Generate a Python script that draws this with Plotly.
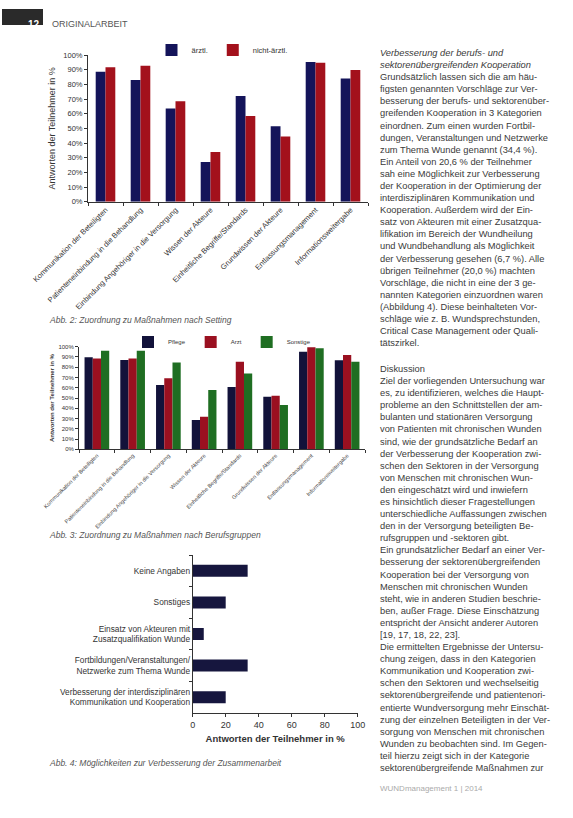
import plotly.graph_objects as go

W, H = 573, 818


def px(x):
    return x / W


def py(y):
    return 1 - y / H


# ---------------- data ----------------
cats = [
    "Kommunikation der Beteiligten",
    "Patienteneinbindung in die Behandlung",
    "Einbindung Angehöriger in die Versorgung",
    "Wissen der Akteure",
    "Einheitliche Begriffe/Standards",
    "Grundwissen der Akteure",
    "Entlassungsmanagement",
    "Informationsweitergabe",
]
aerztl = [88.6, 83.0, 63.6, 27.0, 72.0, 51.4, 95.2, 84.0]
nicht_aerztl = [91.6, 92.7, 68.4, 33.9, 58.4, 44.5, 94.8, 89.8]

pflege = [89.6, 87.0, 62.7, 28.6, 60.7, 51.3, 95.1, 86.7]
arzt = [88.6, 88.6, 69.2, 31.8, 85.4, 52.3, 99.4, 91.9]
sonstige = [96.1, 96.1, 84.7, 57.8, 74.0, 43.2, 98.4, 85.4]

cats3 = [
    "Keine Angaben",
    "Sonstiges",
    "Einsatz von Akteuren mit<br>Zusatzqualifikation Wunde",
    "Fortbildungen/Veranstaltungen/<br>Netzwerke zum Thema Wunde",
    "Verbesserung der interdisziplinären<br>Kommunikation und Kooperation",
]
vals3 = [33.3, 20.0, 6.7, 33.3, 20.0]

text_col1 = [
    "<i>Verbesserung der berufs- und</i>",
    "<i>sektorenübergreifenden Kooperation</i>",
    "Grundsätzlich lassen sich die am häu-",
    "figsten genannten Vorschläge zur Ver-",
    "besserung der berufs- und sektorenüber-",
    "greifenden Kooperation in 3 Kategorien",
    "einordnen. Zum einen wurden Fortbil-",
    "dungen, Veranstaltungen und Netzwerke",
    "zum Thema Wunde genannt (34,4 %).",
    "Ein Anteil von 20,6 % der Teilnehmer",
    "sah eine Möglichkeit zur Verbesserung",
    "der Kooperation in der Optimierung der",
    "interdisziplinären Kommunikation und",
    "Kooperation. Außerdem wird der Ein-",
    "satz von Akteuren mit einer Zusatzqua-",
    "lifikation im Bereich der Wundheilung",
    "und Wundbehandlung als Möglichkeit",
    "der Verbesserung gesehen (6,7 %). Alle",
    "übrigen Teilnehmer (20,0 %) machten",
    "Vorschläge, die nicht in eine der 3 ge-",
    "nannten Kategorien einzuordnen waren",
    "(Abbildung 4). Diese beinhalteten Vor-",
    "schläge wie z. B. Wundsprechstunden,",
    "Critical Case Management oder Quali-",
    "tätszirkel.",
]
text_col2 = [
    "Diskussion",
    "Ziel der vorliegenden Untersuchung war",
    "es, zu identifizieren, welches die Haupt-",
    "probleme an den Schnittstellen der am-",
    "bulanten und stationären Versorgung",
    "von Patienten mit chronischen Wunden",
    "sind, wie der grundsätzliche Bedarf an",
    "der Verbesserung der Kooperation zwi-",
    "schen den Sektoren in der Versorgung",
    "von Menschen mit chronischen Wun-",
    "den eingeschätzt wird und inwiefern",
    "es hinsichtlich dieser Fragestellungen",
    "unterschiedliche Auffassungen zwischen",
    "den in der Versorgung beteiligten Be-",
    "rufsgruppen und -sektoren gibt.",
    "Ein grundsätzlicher Bedarf an einer Ver-",
    "besserung der sektorenübergreifenden",
    "Kooperation bei der Versorgung von",
    "Menschen mit chronischen Wunden",
    "steht, wie in anderen Studien beschrie-",
    "ben, außer Frage. Diese Einschätzung",
    "entspricht der Ansicht anderer Autoren",
    "[19, 17, 18, 22, 23].",
    "Die ermittelten Ergebnisse der Untersu-",
    "chung zeigen, dass in den Kategorien",
    "Kommunikation und Kooperation zwi-",
    "schen den Sektoren und wechselseitig",
    "sektorenübergreifende und patientenori-",
    "entierte Wundversorgung mehr Einschät-",
    "zung der einzelnen Beteiligten in der Ver-",
    "sorgung von Menschen mit chronischen",
    "Wunden zu beobachten sind. Im Gegen-",
    "teil hierzu zeigt sich in der Kategorie",
    "sektorenübergreifende Maßnahmen zur",
]

NAVY = "#14145a"
RED = "#a3111c"
NAVY2 = "#12123a"
RED2 = "#9a1020"
GREEN = "#1f6e22"
NAVY3 = "#16163e"
FONT = "Liberation Sans"

fig = go.Figure()

# chart 1
fig.add_trace(go.Bar(x=cats, y=aerztl, name="ärztl.", marker_color=NAVY,
                     width=0.28, offset=-0.28, xaxis="x", yaxis="y", legend="legend"))
fig.add_trace(go.Bar(x=cats, y=nicht_aerztl, name="nicht-ärztl.", marker_color=RED,
                     width=0.28, offset=0.0, xaxis="x", yaxis="y", legend="legend"))

# chart 2
fig.add_trace(go.Bar(x=cats, y=pflege, name="Pflege", marker_color=NAVY2,
                     width=0.23, offset=-0.345, xaxis="x2", yaxis="y2", legend="legend2"))
fig.add_trace(go.Bar(x=cats, y=arzt, name="Arzt", marker_color=RED2,
                     width=0.23, offset=-0.115, xaxis="x2", yaxis="y2", legend="legend2"))
fig.add_trace(go.Bar(x=cats, y=sonstige, name="Sonstige", marker_color=GREEN,
                     width=0.23, offset=0.115, xaxis="x2", yaxis="y2", legend="legend2"))

# chart 3
fig.add_trace(go.Bar(y=cats3, x=vals3, orientation="h", marker_color=NAVY3,
                     width=0.38, offset=-0.19, xaxis="x3", yaxis="y3", showlegend=False))

axis_common = dict(showgrid=False, zeroline=False, showline=True, linecolor="#333",
                   linewidth=1, ticks="outside", tickcolor="#333", ticklen=3,
                   automargin=False)

fig.update_layout(
    template="none",
    width=W, height=H,
    margin=dict(l=0, r=0, t=0, b=0, pad=0, autoexpand=False),
    paper_bgcolor="white", plot_bgcolor="white",
    font=dict(family=FONT, color="#333"),
    barmode="group",
    xaxis=dict(domain=[px(88), px(368)], anchor="y", type="category",
               tickangle=-45, tickfont=dict(size=7.5), tickson="boundaries",
               **axis_common),
    yaxis=dict(domain=[py(201.7), py(55)], anchor="x", range=[0, 100], dtick=10,
               ticksuffix="%", tickfont=dict(size=7.5),
               title=dict(text="Antworten der Teilnehmer in %", font=dict(size=9), standoff=6),
               **axis_common),
    xaxis2=dict(domain=[px(79), px(365)], anchor="y2", type="category",
                tickangle=-45, tickfont=dict(size=5.5, color="#444"), tickson="boundaries",
                **axis_common),
    yaxis2=dict(domain=[py(449.3), py(346.7)], anchor="x2", range=[0, 100], dtick=10,
                ticksuffix="%", tickfont=dict(size=6),
                title=dict(text="<b>Antworten der Teilnehmer in %</b>", font=dict(size=6), standoff=3),
                **axis_common),
    xaxis3=dict(domain=[px(192.7), px(357.7)], anchor="y3", range=[0, 100], dtick=20,
                tickfont=dict(size=9),
                title=dict(text="<b>Antworten der Teilnehmer in %</b>", font=dict(size=9.5), standoff=6),
                **axis_common),
    yaxis3=dict(domain=[py(713), py(555)], anchor="x3", type="category",
                autorange="reversed", tickson="boundaries", tickfont=dict(size=8.3),
                **axis_common),
    legend=dict(orientation="h", x=px(222), xanchor="center", y=py(50), yanchor="middle",
                font=dict(size=7.5), bgcolor="rgba(0,0,0,0)", itemwidth=30),
    legend2=dict(orientation="h", x=px(222), xanchor="center", y=py(342), yanchor="middle",
                 font=dict(size=6), bgcolor="rgba(0,0,0,0)", itemwidth=30),
)

annotations = []
# header
annotations.append(dict(text="<b>12</b>", x=px(42), y=py(17), xref="paper", yref="paper",
                        xanchor="right", showarrow=False, font=dict(size=10, color="white")))
annotations.append(dict(text="ORIGINALARBEIT", x=px(50), y=py(17), xref="paper", yref="paper",
                        xanchor="left", showarrow=False, font=dict(size=9, color="#555")))
# captions
caps = [("Abb. 2: Zuordnung zu Maßnahmen nach Setting", 320),
        ("Abb. 3: Zuordnung zu Maßnahmen nach Berufsgruppen", 535),
        ("Abb. 4: Möglichkeiten zur Verbesserung der Zusammenarbeit", 763)]
for t, yy in caps:
    annotations.append(dict(text="<i>" + t + "</i>", x=px(47), y=py(yy), xref="paper", yref="paper",
                            xanchor="left", yanchor="middle", showarrow=False,
                            font=dict(size=8.5, color="#555")))
# right column text
annotations.append(dict(text="<br>".join(text_col1), x=px(378), y=py(45.5), xref="paper", yref="paper",
                        xanchor="left", yanchor="top", align="left", showarrow=False,
                        font=dict(size=9.3, color="#3a3a3a")))
annotations.append(dict(text="<br>".join(text_col2), x=px(378), y=py(361.5), xref="paper", yref="paper",
                        xanchor="left", yanchor="top", align="left", showarrow=False,
                        font=dict(size=9.3, color="#3a3a3a")))
# footer
annotations.append(dict(text="WUNDmanagement 1 | 2014", x=px(485), y=py(795), xref="paper", yref="paper",
                        showarrow=False, font=dict(size=8, color="#aaa")))
fig.update_layout(annotations=annotations)

fig.add_shape(type="rect", xref="paper", yref="paper", x0=px(2), x1=px(43), y0=py(25), y1=py(9),
              fillcolor="#2a2a2a", line=dict(width=0), layer="below")

fig.write_html("out.html", config={"displayModeBar": False},
               post_script="document.body.style.margin='0';document.body.style.overflow='hidden';")
